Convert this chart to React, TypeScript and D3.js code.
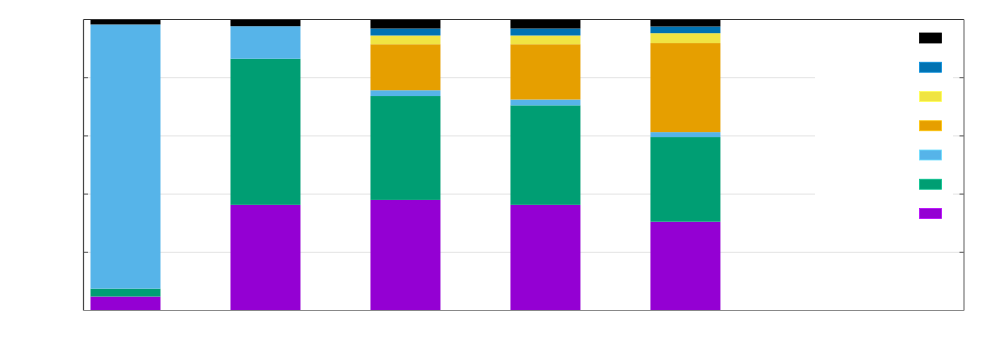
import * as d3 from "d3";

// gnuplot-style stacked histogram, fractions of total per column
const categories = ["A", "B", "C", "D", "E"];
const seriesKeys = ["purple", "green", "skyblue", "orange", "yellow", "blue", "black"];
const seriesColors = ["#9400d3", "#009e73", "#56b4e9", "#e69f00", "#f0e442", "#0072b2", "#000000"];

const purple = [0.048, 0.363, 0.38, 0.363, 0.305];
const green = [0.027, 0.502, 0.357, 0.342, 0.291];
const skyblue = [0.908, 0.112, 0.02, 0.02, 0.017];
const orange = [0, 0, 0.158, 0.19, 0.306];
const yellow = [0, 0, 0.03, 0.03, 0.034];
const blue = [0, 0, 0.024, 0.024, 0.023];
const black = [0.017, 0.023, 0.031, 0.031, 0.024];

const yTicks = [0, 0.2, 0.4, 0.6, 0.8, 1];

const width = 1000;
const height = 350;
const left = 83.5;
const right = 964;
const top = 19.5;
const bottom = 310.5;

export default function App() {
  const columns = [purple, green, skyblue, orange, yellow, blue, black];
  const rows = categories.map((c, i) => {
    const row: Record<string, any> = { cat: c, idx: i };
    seriesKeys.forEach((k, j) => (row[k] = columns[j][i]));
    return row;
  });
  const stacked = d3.stack().keys(seriesKeys)(rows as any);

  const x = d3.scaleLinear().domain([-0.3, 5.99]).range([left, right]);
  const y = d3.scaleLinear().domain([0, 1]).range([bottom, top]);
  const color = d3.scaleOrdinal<string, string>().domain(seriesKeys).range(seriesColors);
  const barW = 0.5;

  return (
    <svg
      width={width}
      height={height}
      style={{ position: "absolute", left: 0, top: 0, background: "#fff" }}
    >
      {/* grid */}
      {yTicks.slice(1, -1).map((t) => (
        <line key={t} x1={left} x2={right} y1={y(t)} y2={y(t)} stroke="#e3e3e3" strokeWidth={1} />
      ))}

      {/* bars */}
      {stacked.map((s) => (
        <g key={s.key} fill={color(s.key)}>
          {s.map((d, i) =>
            d[1] - d[0] > 0 ? (
              <rect
                key={i}
                x={x(i - barW / 2)}
                width={x(i + barW / 2) - x(i - barW / 2)}
                y={y(d[1])}
                height={y(d[0]) - y(d[1])}
              />
            ) : null
          )}
        </g>
      ))}

      {/* key box */}
      <rect x={815} y={top + 1} width={138} height={210} fill="#fff" />
      {seriesKeys
        .slice()
        .reverse()
        .map((k, i) => (
          <rect
            key={k}
            x={919.5}
            y={33 + i * 29.25}
            width={22}
            height={10}
            fill={color(k)}
            stroke={d3.color(color(k))!.brighter(0.6).toString()}
            strokeWidth={0.8}
          />
        ))}

      {/* ticks */}
      {yTicks.slice(1, -1).map((t) => (
        <g key={t} stroke="#555" strokeWidth={1}>
          <line x1={left} x2={left + 4.5} y1={y(t)} y2={y(t)} />
          <line x1={right - 4.5} x2={right} y1={y(t)} y2={y(t)} />
        </g>
      ))}

      {/* border */}
      <line x1={left} x2={right} y1={top} y2={top} stroke="#333" strokeWidth={1.2} />
      <line x1={left} x2={left} y1={top} y2={bottom} stroke="#444" strokeWidth={1.2} />
      <line x1={right} x2={right} y1={top} y2={bottom} stroke="#777" strokeWidth={1.2} />
      <line x1={left} x2={right} y1={bottom} y2={bottom} stroke="#888" strokeWidth={1.2} />
    </svg>
  );
}
